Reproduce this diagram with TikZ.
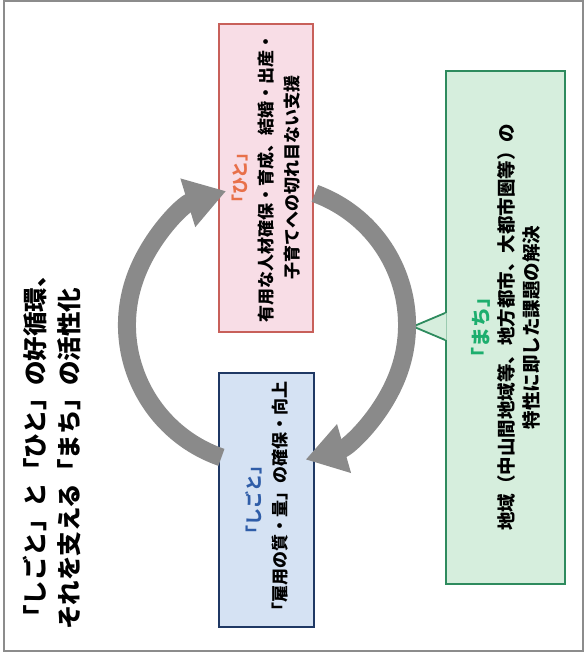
\documentclass[tikz,border=0pt]{standalone}
\usepackage{fontspec}
\newfontfamily\jp{Noto Sans CJK JP}
\usetikzlibrary{arrows.meta}
\definecolor{hitoline}{HTML}{C8605A}
\definecolor{hitofill}{HTML}{F8DDE6}
\definecolor{hitotext}{HTML}{E8704A}
\definecolor{shigotoline}{HTML}{1F3864}
\definecolor{shigotofill}{HTML}{D5E2F3}
\definecolor{shigototext}{HTML}{2F5DA8}
\definecolor{machiline}{HTML}{2E8B5E}
\definecolor{machifill}{HTML}{D6EEDD}
\definecolor{machitext}{HTML}{1DAE6E}
\definecolor{ringgray}{HTML}{8A8A8A}
\definecolor{framegray}{HTML}{8C8C8C}

\begin{document}
\begin{tikzpicture}[x = 1pt, y = 1pt,
                    mbox/.style = {shape = rectangle,
                                   rotate = 90,
                                   line width = 1.8pt,
                                   align = center,
                                   inner sep = 0pt,
                                   font = \jp\bfseries\fontsize{17}{26}\selectfont,
                                   draw},
                    ringarrow/.style = {draw = ringgray,
                                        line width = 18pt,
                                        -{Triangle[width = 48pt, length = 40pt]}}]
	\useasboundingbox (0,0) rectangle (585,672);
	\draw[framegray, line width = 1.3pt] (4,21) rectangle (583,671);
	% title
	\node[rotate = 90, align = left, inner sep = 0pt, anchor = north west,
	      font = \jp\bfseries\fontsize{24.5}{34}\selectfont] (title) at (23,42)
	      {「しごと」と「ひと」の好循環、\\それを支える「まち」の活性化};
	% boxes
	\node[mbox, draw = hitoline, fill = hitofill,
	      minimum width = 308pt, minimum height = 94pt] (hito) at (266,494)
	      {{\color{hitotext}「ひと」}\\有用な人材確保・育成、結婚・出産・\\子育てへの切れ目ない支援};
	\node[mbox, draw = shigotoline, fill = shigotofill,
	      minimum width = 254pt, minimum height = 95pt] (shigoto) at (266.5,172)
	      {{\color{shigototext}「しごと」}\\「雇用の質・量」の確保・向上};
	\node[mbox, draw = machiline, fill = machifill,
	      font = \jp\bfseries\fontsize{18.5}{25}\selectfont,
	      minimum width = 513pt, minimum height = 119pt] (machi) at (505.5,344.5)
	      {{\color{machitext}\fontsize{20}{25}\selectfont「まち」}\\地域（中山間地域等、地方都市、大都市圏等）の\\特性に即した課題の解決};
	% callout
	\coordinate (machi-top) at ([yshift = 14.5pt]machi.north);
	\coordinate (machi-bot) at ([yshift = -12.5pt]machi.north);
	\coordinate (machi-tip) at ([xshift = -32pt, yshift = 1pt]machi.north);
	\fill[machifill] ([xshift = 1.5pt]machi-top) -- (machi-tip) -- ([xshift = 1.5pt]machi-bot) -- cycle;
	\draw[machiline, line width = 1.8pt] (machi-top) -- (machi-tip) -- (machi-bot);
	% cycle
	\coordinate (ring) at (267,347);
	\draw[ringarrow] ([shift = {(251:140)}]ring) arc[start angle = 251, end angle = 107, radius = 140];
	\draw[ringarrow] ([shift = {(70:140)}]ring) arc[start angle = 70, end angle = -74, radius = 140];
\end{tikzpicture}
\end{document}
